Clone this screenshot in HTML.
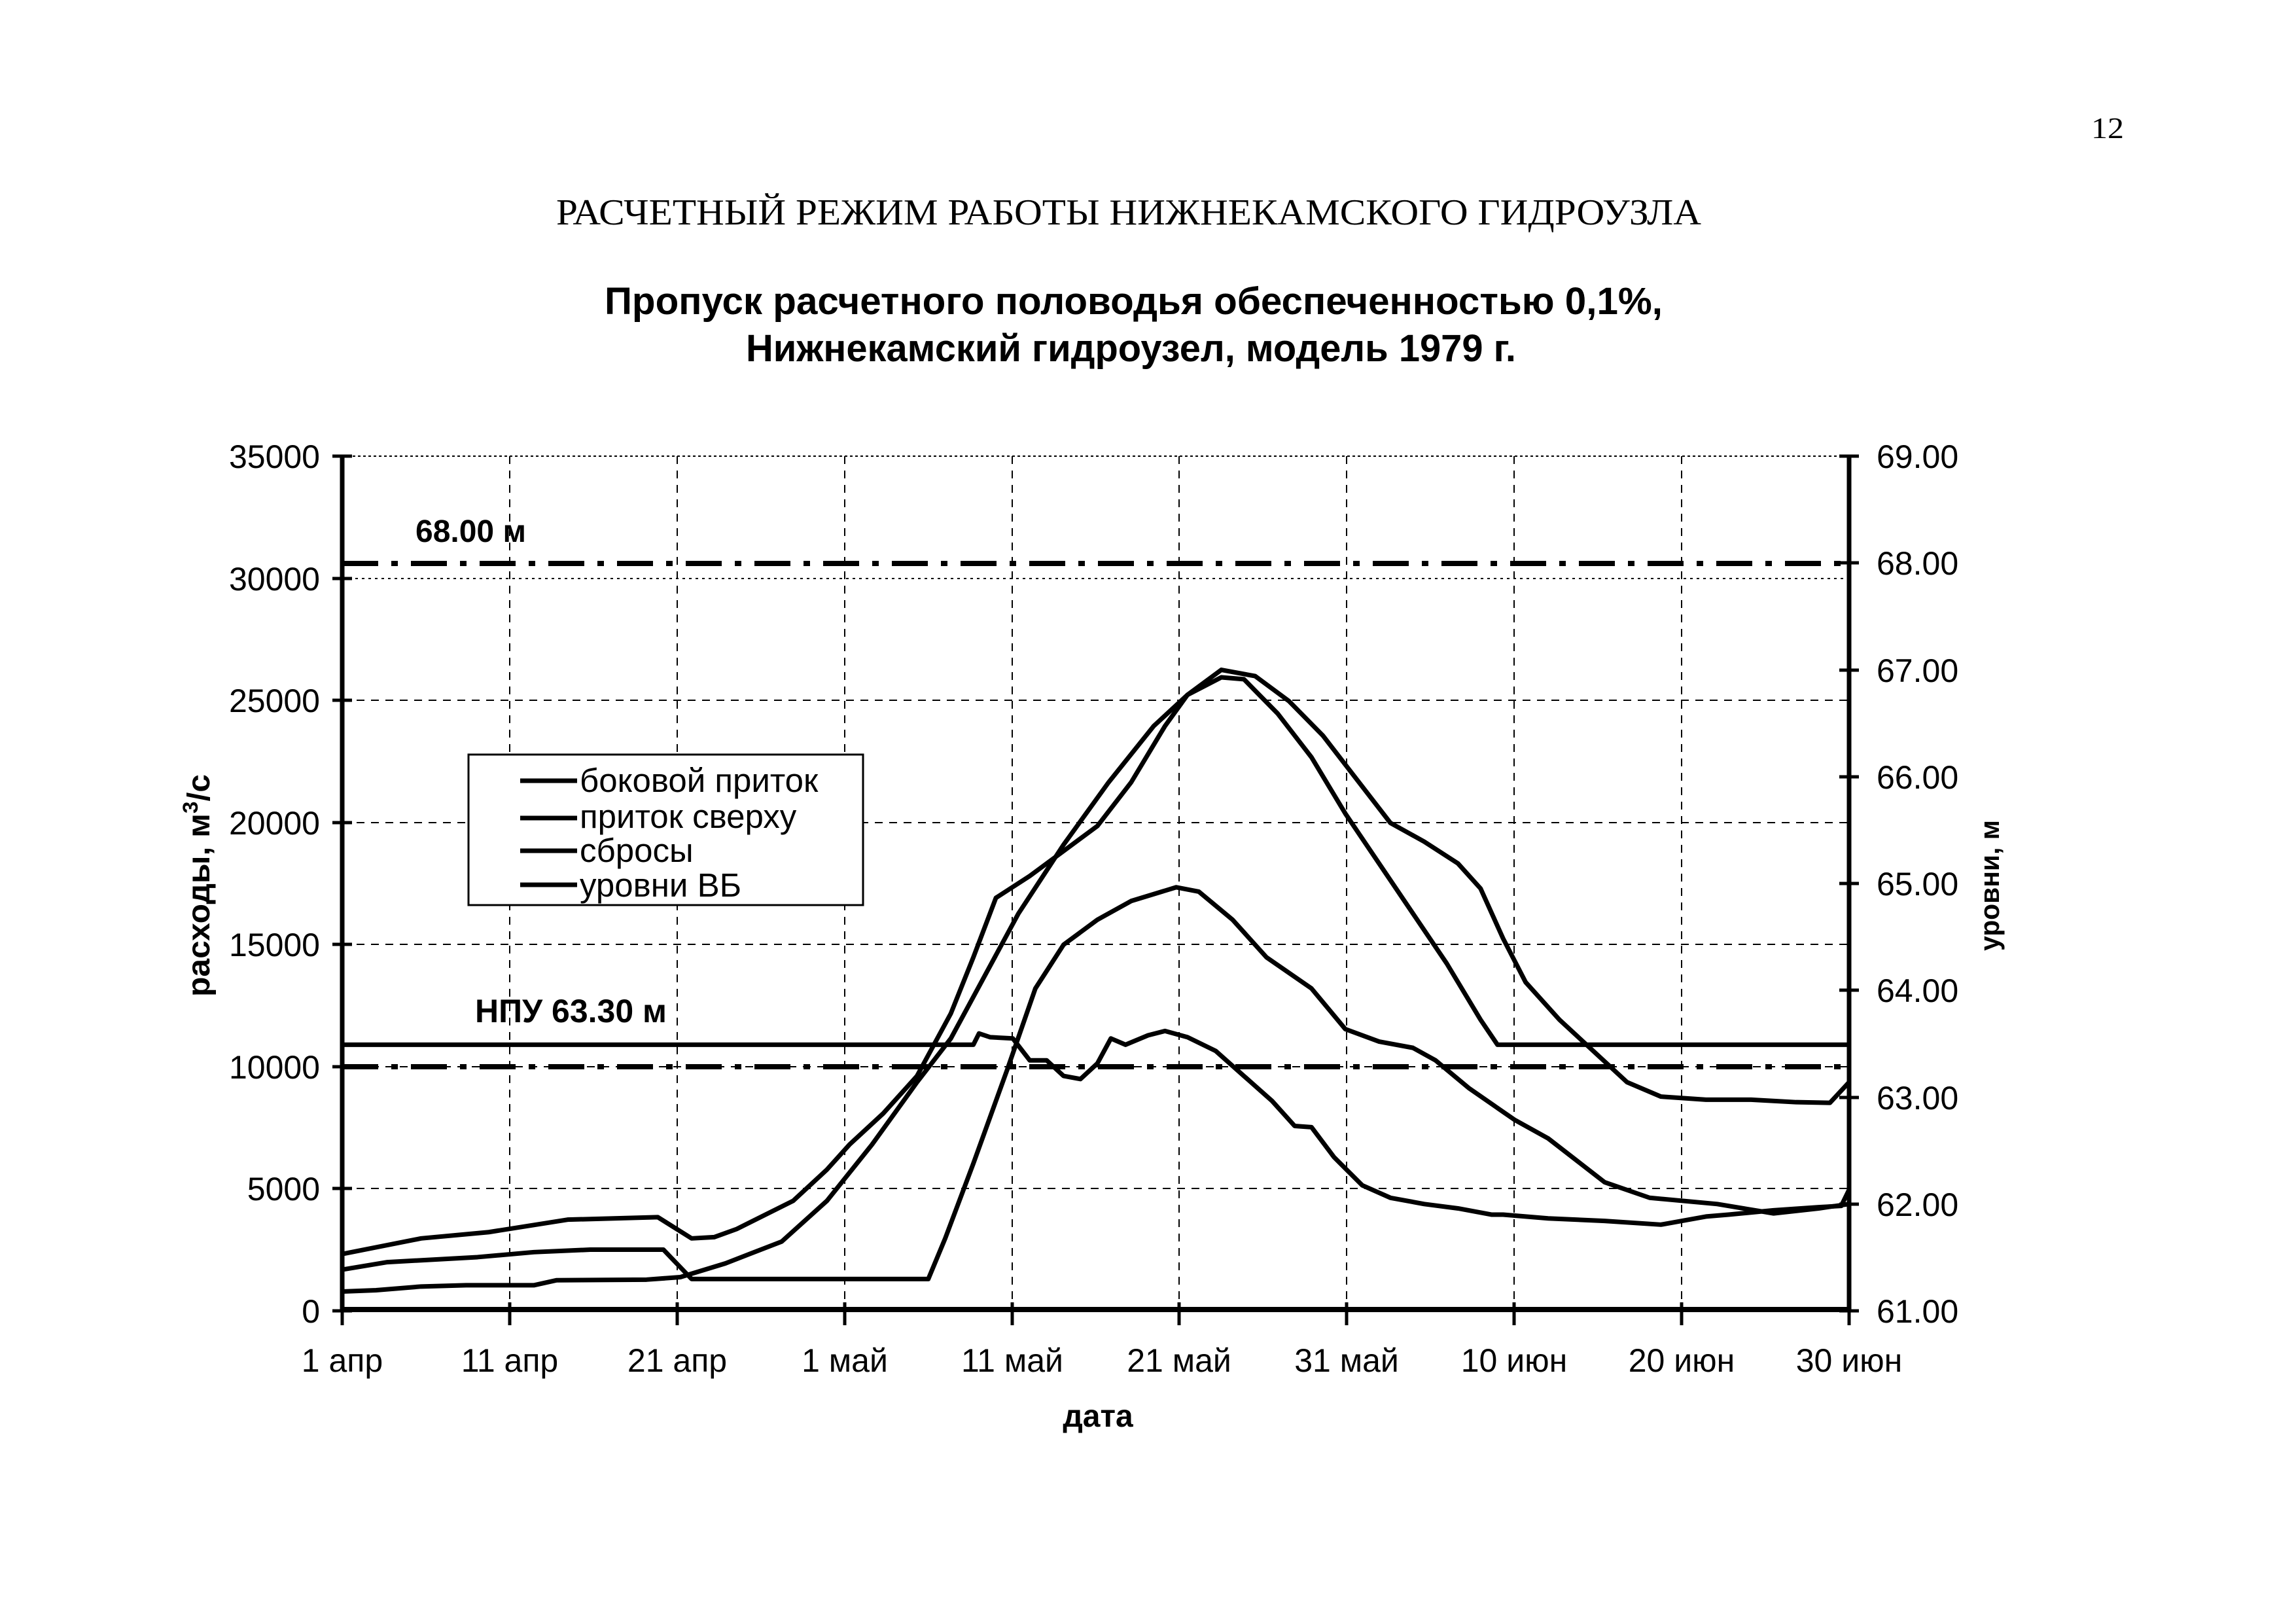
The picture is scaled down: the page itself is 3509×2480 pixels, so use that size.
<!DOCTYPE html>
<html><head><meta charset="utf-8"><style>
html,body{margin:0;padding:0;background:#fff}
svg{display:block}
text{font-family:"Liberation Sans",sans-serif;fill:#000}
</style></head><body>
<svg width="3509" height="2480" viewBox="0 0 3509 2480" xmlns="http://www.w3.org/2000/svg">
<rect width="3509" height="2480" fill="#fff"/>
<text x="3196" y="211" style="font-family:'Liberation Serif',serif" font-size="46" textLength="50" lengthAdjust="spacingAndGlyphs">12</text>
<text x="850" y="343" style="font-family:'Liberation Serif',serif" font-size="56" textLength="1750" lengthAdjust="spacingAndGlyphs">РАСЧЕТНЫЙ РЕЖИМ РАБОТЫ НИЖНЕКАМСКОГО ГИДРОУЗЛА</text>
<text x="924" y="480" font-size="58" font-weight="bold" textLength="1617" lengthAdjust="spacingAndGlyphs">Пропуск расчетного половодья обеспеченностью 0,1%,</text>
<text x="1140" y="552" font-size="58" font-weight="bold" textLength="1177" lengthAdjust="spacingAndGlyphs">Нижнекамский гидроузел, модель 1979 г.</text>

<!-- grid -->
<g stroke="#000" stroke-width="2" stroke-dasharray="12,10" fill="none">
<line x1="523" y1="1816" x2="2826" y2="1816"/>
<line x1="523" y1="1630" x2="2826" y2="1630"/>
<line x1="523" y1="1443" x2="2826" y2="1443"/>
<line x1="523" y1="1257" x2="2826" y2="1257"/>
<line x1="523" y1="1070" x2="2826" y2="1070"/>
<line x1="523" y1="884" x2="2826" y2="884" stroke-dasharray="4,6"/>
<line x1="523" y1="697" x2="2826" y2="697" stroke-dasharray="4,4"/>
<line x1="779" y1="697" x2="779" y2="2003"/>
<line x1="1035" y1="697" x2="1035" y2="2003"/>
<line x1="1291" y1="697" x2="1291" y2="2003"/>
<line x1="1547" y1="697" x2="1547" y2="2003"/>
<line x1="1802" y1="697" x2="1802" y2="2003"/>
<line x1="2058" y1="697" x2="2058" y2="2003"/>
<line x1="2314" y1="697" x2="2314" y2="2003"/>
<line x1="2570" y1="697" x2="2570" y2="2003"/>
</g>

<!-- reference lines -->
<g stroke="#000" stroke-width="8" stroke-dasharray="55,20,10,20" fill="none">
<line x1="523" y1="861" x2="2826" y2="861"/>
<line x1="523" y1="1630" x2="2826" y2="1630"/>
</g>
<text x="635" y="828" font-size="48" font-weight="bold">68.00 м</text>
<text x="726" y="1562" font-size="50" font-weight="bold">НПУ 63.30 м</text>

<!-- series -->
<g transform="translate(299.1,651.2) scale(1.7225,0.9547)" fill="none" stroke="#000" stroke-width="7" stroke-linejoin="round">
<polyline vector-effect="non-scaling-stroke" points="130,990 690,990 695,972 705,978 725,980 740,1015 755,1015 770,1040 785,1045 800,1020 812,980 825,990 845,975 860,968 880,978 905,1000 930,1040 955,1080 975,1120 990,1122 1010,1170 1035,1215 1060,1235 1090,1245 1120,1252 1150,1262 1160,1262 1200,1268 1250,1272 1300,1278 1340,1265 1360,1262 1400,1255 1440,1250 1460,1248 1467,1222"/>
<polyline vector-effect="non-scaling-stroke" points="130,1385 160,1383 200,1377 240,1375 300,1375 320,1367 400,1366 430,1362 470,1340 520,1305 560,1240 600,1150 640,1050 670,980 700,880 730,780 770,670 810,570 850,480 880,430 910,402 930,405 960,460 990,530 1020,620 1050,700 1080,780 1110,860 1140,950 1155,990 1467,990"/>
<polyline vector-effect="non-scaling-stroke" points="130,1325 200,1300 260,1290 330,1270 410,1266 440,1300 460,1298 480,1285 530,1240 560,1190 580,1150 610,1100 640,1040 670,940 690,850 710,755 740,720 770,680 800,640 830,570 860,480 880,430 910,390 940,400 970,440 1000,495 1030,565 1060,635 1090,665 1120,700 1140,740 1160,820 1180,890 1210,950 1240,1000 1270,1050 1300,1073 1340,1078 1380,1078 1420,1082 1450,1083 1467,1050"/>
<polyline vector-effect="non-scaling-stroke" points="130,1350 170,1338 250,1330 300,1322 350,1318 415,1318 440,1365 650,1365 665,1300 690,1180 720,1030 745,900 770,830 800,790 830,760 870,738 890,745 920,790 950,850 990,900 1020,965 1050,985 1080,995 1100,1015 1130,1060 1170,1110 1200,1140 1250,1210 1290,1235 1350,1245 1400,1260 1440,1252 1467,1245"/>
</g>
<line x1="523" y1="2001" x2="2826" y2="2001" stroke="#000" stroke-width="8"/>

<!-- axes -->
<g stroke="#000" stroke-width="7" fill="none">
<line x1="523" y1="697" x2="523" y2="2003"/>
<line x1="2826" y1="697" x2="2826" y2="2003"/>
</g>
<g stroke="#000" stroke-width="5">
<line x1="508" y1="697" x2="538" y2="697"/><line x1="508" y1="884" x2="538" y2="884"/><line x1="508" y1="1070" x2="538" y2="1070"/><line x1="508" y1="1257" x2="538" y2="1257"/><line x1="508" y1="1443" x2="538" y2="1443"/><line x1="508" y1="1630" x2="538" y2="1630"/><line x1="508" y1="1816" x2="538" y2="1816"/><line x1="508" y1="2003" x2="538" y2="2003"/>
<line x1="2811" y1="697" x2="2841" y2="697"/><line x1="2811" y1="860" x2="2841" y2="860"/><line x1="2811" y1="1024" x2="2841" y2="1024"/><line x1="2811" y1="1187" x2="2841" y2="1187"/><line x1="2811" y1="1350" x2="2841" y2="1350"/><line x1="2811" y1="1513" x2="2841" y2="1513"/><line x1="2811" y1="1677" x2="2841" y2="1677"/><line x1="2811" y1="1840" x2="2841" y2="1840"/><line x1="2811" y1="2003" x2="2841" y2="2003"/>
<line x1="523" y1="1990" x2="523" y2="2025"/><line x1="779" y1="1990" x2="779" y2="2025"/><line x1="1035" y1="1990" x2="1035" y2="2025"/><line x1="1291" y1="1990" x2="1291" y2="2025"/><line x1="1547" y1="1990" x2="1547" y2="2025"/><line x1="1802" y1="1990" x2="1802" y2="2025"/><line x1="2058" y1="1990" x2="2058" y2="2025"/><line x1="2314" y1="1990" x2="2314" y2="2025"/><line x1="2570" y1="1990" x2="2570" y2="2025"/><line x1="2826" y1="1990" x2="2826" y2="2025"/>
</g>

<g font-size="50" text-anchor="end">
<text x="489" y="715">35000</text><text x="489" y="902">30000</text><text x="489" y="1088">25000</text><text x="489" y="1275">20000</text><text x="489" y="1461">15000</text><text x="489" y="1648">10000</text><text x="489" y="1834">5000</text><text x="489" y="2021">0</text>
</g>
<g font-size="50">
<text x="2868" y="715">69.00</text><text x="2868" y="878">68.00</text><text x="2868" y="1042">67.00</text><text x="2868" y="1205">66.00</text><text x="2868" y="1368">65.00</text><text x="2868" y="1531">64.00</text><text x="2868" y="1695">63.00</text><text x="2868" y="1858">62.00</text><text x="2868" y="2021">61.00</text>
</g>
<g font-size="50" text-anchor="middle">
<text x="523" y="2096">1 апр</text><text x="779" y="2096">11 апр</text><text x="1035" y="2096">21 апр</text><text x="1291" y="2096">1 май</text><text x="1547" y="2096">11 май</text><text x="1802" y="2096">21 май</text><text x="2058" y="2096">31 май</text><text x="2314" y="2096">10 июн</text><text x="2570" y="2096">20 июн</text><text x="2826" y="2096">30 июн</text>
</g>
<text x="1678" y="2180" font-size="48" font-weight="bold" text-anchor="middle">дата</text>
<text transform="translate(320,1353) rotate(-90)" font-size="48" font-weight="bold" text-anchor="middle" textLength="340" lengthAdjust="spacingAndGlyphs">расходы, м<tspan font-size="32" dy="-18">3</tspan><tspan dy="18">/с</tspan></text>
<text transform="translate(3055,1353) rotate(-90)" font-size="42" font-weight="bold" text-anchor="middle" textLength="200" lengthAdjust="spacingAndGlyphs">уровни, м</text>

<!-- legend -->
<rect x="716" y="1153" width="603" height="230" fill="#fff" stroke="#000" stroke-width="3"/>
<g stroke="#000" stroke-width="7">
<line x1="795" y1="1193" x2="882" y2="1193"/><line x1="795" y1="1250" x2="882" y2="1250"/><line x1="795" y1="1300" x2="882" y2="1300"/><line x1="795" y1="1352" x2="882" y2="1352"/>
</g>
<g font-size="51">
<text x="886" y="1210">боковой приток</text><text x="886" y="1265">приток сверху</text><text x="886" y="1317">сбросы</text><text x="886" y="1370">уровни ВБ</text>
</g>
</svg>
</body></html>
